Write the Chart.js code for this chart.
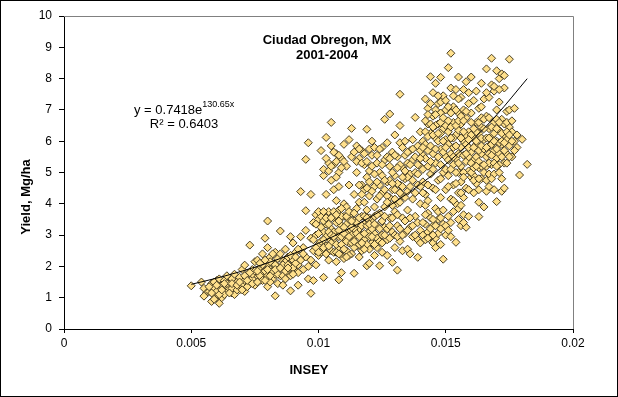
<!DOCTYPE html>
<html>
<head>
<meta charset="utf-8">
<title>Ciudad Obregon, MX 2001-2004</title>
<script src="https://cdn.jsdelivr.net/npm/chart.js@4.4.1/dist/chart.umd.min.js"></script>
<style>
    body { margin: 0; background: #fff; }
    canvas { display: block; }
</style>
</head>
<body>
<canvas id="yieldChart" width="618" height="397"></canvas>
<script>
// INSEY vs grain yield (Mg/ha)
const observations = [
    [0.0050,1.38],[0.0054,1.50],[0.0055,1.30],[0.0056,1.15],[0.0055,1.05],
    [0.0057,1.20],[0.0058,0.88],[0.0058,1.45],[0.0059,1.10],[0.0059,1.30],[0.0060,1.55],[0.0060,1.00],[0.0061,0.82],[0.0061,1.25],[0.0061,1.60],
    [0.0062,1.40],[0.0062,1.15],[0.0063,1.30],[0.0063,1.55],[0.0064,1.20],[0.0064,1.70],[0.0065,1.45],[0.0065,1.30],
    [0.0066,1.15],[0.0066,1.60],[0.0067,1.35],[0.0067,1.75],[0.0068,1.50],[0.0069,1.25],[0.0069,1.65],[0.0070,1.40],[0.0070,1.90],[0.0071,2.04],
    [0.0071,1.20],[0.0071,1.55],[0.0072,1.75],[0.0073,1.45],[0.0073,2.68],[0.0074,1.60],[0.0074,1.90],[0.0075,1.40],[0.0075,2.15],
    [0.0076,1.70],[0.0076,2.20],[0.0077,1.55],[0.0077,1.95],[0.0078,2.40],[0.0078,1.80],[0.0079,2.90],[0.0079,1.65],[0.0080,2.05],[0.0080,3.45],[0.0080,1.35],[0.0080,2.60],
    [0.0081,1.90],[0.0081,2.30],[0.0082,1.60],[0.0082,2.10],[0.0083,1.06],[0.0083,1.75],[0.0083,2.45],[0.0084,2.00],[0.0084,1.45],[0.0085,3.13],[0.0085,2.25],[0.0085,1.70],
    [0.0086,1.40],[0.0086,1.95],[0.0087,2.15],[0.0087,2.55],[0.0088,1.80],[0.0088,2.30],[0.0089,2.00],[0.0089,2.95],[0.0089,1.22],[0.0090,2.20],[0.0090,2.75],
    [0.0091,1.85],[0.0091,2.45],[0.0092,1.40],[0.0092,2.05],[0.0093,2.95],[0.0093,4.39],[0.0094,2.60],[0.0094,1.90],[0.0095,3.15],[0.0095,2.30],[0.0095,5.42],
    [0.0096,5.95],[0.0095,3.78],[0.0096,2.00],[0.0096,1.60],[0.0097,1.14],[0.0097,4.30],[0.0097,2.90],[0.0097,2.20],[0.0098,3.40],[0.0098,1.55],[0.0098,2.50],
    [0.0099,3.65],[0.0099,2.05],[0.0099,3.00],[0.0100,3.50],[0.0100,2.70],[0.0100,2.35],
    [0.0101,3.60],[0.0101,2.45],[0.0101,5.70],[0.0102,4.90],[0.0102,3.10],[0.0102,1.65],[0.0102,5.10],[0.0103,6.12],[0.0103,4.30],[0.0103,3.35],[0.0103,2.65],
    [0.0104,5.30],[0.0104,2.90],[0.0104,3.75],[0.0104,2.20],[0.0105,4.75],[0.0105,5.85],[0.0105,6.60],[0.0105,3.20],[0.0105,2.50],
    [0.0106,5.25],[0.0106,4.45],[0.0106,2.80],[0.0106,3.55],[0.0107,5.60],[0.0107,4.10],[0.0107,2.15],[0.0107,3.00],[0.0108,5.00],[0.0108,3.80],[0.0108,2.60],[0.0108,4.55],
    [0.0109,5.45],[0.0108,1.57],[0.0109,3.30],[0.0109,2.35],[0.0110,5.90],[0.0110,4.00],[0.0110,2.90],[0.0110,3.60],[0.0109,1.80],
    [0.0111,5.20],[0.0111,3.90],[0.0111,2.50],[0.0111,3.35],[0.0112,6.05],[0.0112,4.60],[0.0112,2.75],[0.0112,3.10],[0.0113,6.41],[0.0113,5.50],[0.0113,3.70],[0.0113,2.40],
    [0.0114,1.78],[0.0114,4.30],[0.0114,2.95],[0.0114,3.45],[0.0115,5.85],[0.0115,5.00],[0.0115,3.85],[0.0115,2.65],
    [0.0116,5.45],[0.0116,4.05],[0.0116,3.20],[0.0116,2.30],[0.0117,5.70],[0.0117,4.60],[0.0117,3.00],[0.0117,3.60],[0.0118,4.45],[0.0118,2.85],[0.0118,5.25],[0.0118,3.35],
    [0.0119,2.02],[0.0119,4.85],[0.0119,3.80],[0.0119,6.38],[0.0120,3.10],[0.0120,2.55],[0.0120,4.25],[0.0120,5.05],[0.0120,2.10],
    [0.0121,6.00],[0.0121,5.55],[0.0121,3.50],[0.0121,2.75],[0.0122,4.55],[0.0122,3.90],[0.0122,3.05],[0.0122,2.35],[0.0123,5.30],[0.0123,4.15],[0.0123,3.30],[0.0123,2.60],
    [0.0124,5.00],[0.0124,2.02],[0.0124,3.70],[0.0124,4.60],[0.0125,5.80],[0.0125,4.35],[0.0125,3.00],[0.0125,2.45],
    [0.0126,6.70],[0.0126,5.40],[0.0126,3.90],[0.0126,3.25],[0.0127,4.70],[0.0127,2.85],[0.0127,5.95],[0.0127,2.35],[0.0128,4.20],[0.0128,3.55],[0.0128,6.87],[0.0128,5.20],
    [0.0129,2.13],[0.0129,4.45],[0.0129,3.10],[0.0129,5.65],[0.0130,3.75],[0.0130,2.60],[0.0130,6.20],[0.0130,4.90],
    [0.0131,1.88],[0.0132,7.50],[0.0131,5.50],[0.0131,4.00],[0.0131,3.30],[0.0132,6.50],[0.0132,4.60],[0.0132,2.80],[0.0132,5.95],[0.0133,3.55],[0.0133,5.15],[0.0133,2.50],[0.0133,4.25],
    [0.0134,6.00],[0.0134,3.05],[0.0134,4.80],[0.0134,5.55],[0.0135,3.80],[0.0135,2.55],[0.0135,5.30],[0.0135,4.40],
    [0.0136,5.70],[0.0136,3.25],[0.0136,2.40],[0.0136,4.95],[0.0137,6.05],[0.0137,4.15],[0.0137,2.95],[0.0137,5.40],[0.0138,6.76],[0.0138,3.60],[0.0138,5.00],[0.0139,2.29],
    [0.0139,4.60],[0.0139,5.85],[0.0139,3.40],[0.0139,2.85],[0.0140,5.20],[0.0140,6.30],[0.0140,4.00],[0.0140,3.15],
    [0.0141,5.55],[0.0141,3.00],[0.0141,4.70],[0.0141,6.00],[0.0142,7.35],[0.0142,3.35],[0.0142,5.90],[0.0142,4.30],[0.0142,2.85],[0.0143,6.55],[0.0143,3.70],[0.0143,5.20],[0.0143,7.05],[0.0143,3.10],
    [0.0144,8.06],[0.0144,6.25],[0.0144,4.95],[0.0144,2.95],[0.0144,3.55],[0.0145,7.55],[0.0145,6.80],[0.0145,5.60],[0.0145,4.50],[0.0145,3.30],[0.0145,2.75],
    [0.0146,7.85],[0.0146,6.10],[0.0146,5.30],[0.0146,3.85],[0.0146,2.90],[0.0147,7.20],[0.0147,6.55],[0.0147,4.75],[0.0147,3.50],[0.0147,3.05],
    [0.0148,8.04],[0.0148,6.90],[0.0148,5.75],[0.0148,4.20],[0.0148,2.70],[0.0149,2.23],[0.0149,7.45],[0.0149,5.00],[0.0149,3.35],[0.0149,6.40],[0.0150,4.45],[0.0150,5.50],[0.0150,3.00],[0.0150,7.00],[0.0150,6.05],
    [0.0151,8.35],[0.0151,6.30],[0.0151,4.90],[0.0151,3.60],[0.0152,8.81],[0.0152,7.70],[0.0152,5.60],[0.0152,4.15],[0.0152,2.95],[0.0153,7.10],[0.0153,6.60],[0.0153,5.25],[0.0153,4.60],[0.0153,3.75],
    [0.0154,7.65],[0.0154,6.20],[0.0154,4.00],[0.0154,2.77],[0.0154,5.45],[0.0155,8.05],[0.0155,6.90],[0.0155,5.00],[0.0155,4.35],[0.0155,3.50],
    [0.0156,7.40],[0.0156,6.55],[0.0156,5.80],[0.0156,3.30],[0.0156,4.70],[0.0157,7.00],[0.0157,6.00],[0.0157,4.20],[0.0157,3.65],[0.0158,7.90],[0.0158,6.75],[0.0158,5.35],[0.0158,4.50],[0.0158,3.25],
    [0.0159,7.55],[0.0159,6.30],[0.0159,5.05],[0.0159,3.60],[0.0160,8.05],[0.0160,6.90],[0.0160,4.85],[0.0160,5.65],
    [0.0161,7.30],[0.0161,6.10],[0.0161,4.35],[0.0161,5.40],[0.0162,6.60],[0.0162,5.90],[0.0162,4.65],[0.0163,3.59],[0.0163,7.05],[0.0163,6.25],[0.0163,5.15],[0.0163,4.05],
    [0.0164,7.85],[0.0164,6.45],[0.0164,5.60],[0.0164,4.80],[0.0165,7.35],[0.0165,6.05],[0.0165,5.00],[0.0165,3.90],
    [0.0166,8.31],[0.0166,6.80],[0.0166,5.50],[0.0166,4.40],[0.0167,7.40],[0.0167,6.40],[0.0167,5.85],[0.0167,4.55],[0.0168,8.65],[0.0168,7.80],[0.0168,6.15],[0.0168,5.25],
    [0.0169,7.60],[0.0169,6.60],[0.0169,5.70],[0.0169,4.45],[0.0170,8.25],[0.0170,7.00],[0.0170,6.00],[0.0170,4.07],[0.0170,5.45],
    [0.0171,8.00],[0.0171,7.25],[0.0171,6.35],[0.0171,5.60],[0.0172,8.15],[0.0172,6.70],[0.0172,5.90],[0.0172,4.80],[0.0172,4.40],[0.0173,7.70],[0.0173,6.20],[0.0173,5.30],[0.0173,4.50],
    [0.0174,6.95],[0.0174,6.05],[0.0174,5.60],[0.0175,8.62],[0.0175,6.45],[0.0175,5.85],[0.0175,7.00],
    [0.0176,6.30],[0.0176,5.50],[0.0177,6.00],[0.0177,7.05],[0.0178,5.80],[0.0179,4.92],[0.0180,6.06],[0.0182,5.26],
    // denser parts of the cloud
    [0.0057,1.35],[0.0059,1.50],[0.0060,1.20],[0.0062,1.00],[0.0063,1.10],[0.0064,1.45],[0.0066,1.30],[0.0067,1.10],[0.0068,1.25],
    [0.0072,1.35],[0.0074,1.75],[0.0075,1.85],[0.0077,1.70],[0.0078,1.55],[0.0078,2.05],[0.0079,1.85],[0.0080,1.70],[0.0081,2.15],[0.0081,1.50],[0.0082,1.85],[0.0082,2.40],
    [0.0083,2.05],[0.0084,1.75],[0.0084,2.25],[0.0086,1.70],[0.0086,2.05],[0.0087,1.85],[0.0088,2.05],[0.0089,1.70],[0.0089,2.35],[0.0090,1.95],[0.0091,2.10],[0.0092,1.80],[0.0092,2.55],
    [0.0099,2.60],[0.0100,3.05],[0.0101,2.80],[0.0102,2.60],[0.0102,3.45],[0.0103,2.95],[0.0104,3.35],[0.0105,2.75],[0.0106,3.10],[0.0106,2.45],[0.0107,3.40],[0.0107,2.70],
    [0.0108,3.15],[0.0108,2.95],[0.0109,2.70],[0.0109,3.60],[0.0110,3.25],[0.0110,2.55],[0.0111,3.05],[0.0111,2.80],[0.0112,3.50],[0.0112,2.35],[0.0113,3.00],[0.0113,2.75],
    [0.0114,3.20],[0.0114,2.60],[0.0115,3.05],[0.0115,3.40],[0.0116,2.70],[0.0116,3.55],[0.0117,2.50],[0.0117,3.30],[0.0118,3.05],[0.0119,2.70],[0.0119,3.30],[0.0120,2.95],
    [0.0120,3.55],[0.0121,3.20],[0.0122,2.70],[0.0123,2.90],[0.0124,3.20],[0.0125,3.45],
    [0.0103,5.45],[0.0104,5.05],[0.0105,5.20],[0.0106,5.65],[0.0107,5.35],[0.0107,4.85],[0.0108,5.55],[0.0109,5.15],[0.0110,5.35],
    [0.0116,4.60],[0.0117,4.30],[0.0118,4.05],[0.0119,4.50],[0.0120,4.70],[0.0121,4.40],[0.0122,4.95],[0.0123,4.70],[0.0124,4.25],[0.0125,4.90],[0.0126,4.45],[0.0127,4.25],
    [0.0128,4.75],[0.0129,3.95],[0.0130,4.45],[0.0131,4.65],[0.0132,4.05],[0.0133,4.55],[0.0134,4.20],[0.0135,4.85],[0.0125,5.25],[0.0127,5.50],[0.0129,5.00],[0.0130,5.55],[0.0132,5.25],[0.0133,5.80],
    [0.0140,2.75],[0.0141,3.40],[0.0142,3.65],[0.0143,2.90],[0.0144,3.20],[0.0145,3.50],[0.0145,3.00],[0.0146,3.30],[0.0146,2.60],[0.0147,3.75],[0.0148,3.20],[0.0148,3.55],
    [0.0149,3.80],[0.0150,3.30],[0.0151,3.15],[0.0152,3.40],[0.0142,3.95],[0.0143,4.10],
    [0.0138,5.50],[0.0139,5.25],[0.0140,5.70],[0.0141,5.10],[0.0142,5.45],[0.0142,6.30],[0.0143,5.70],[0.0143,6.15],[0.0144,5.35],[0.0144,5.85],[0.0145,6.20],[0.0145,5.10],
    [0.0146,5.75],[0.0146,6.50],[0.0147,5.50],[0.0147,6.00],[0.0148,5.25],[0.0148,6.25],[0.0149,5.65],[0.0149,6.00],[0.0150,5.10],[0.0150,6.50],[0.0151,5.40],[0.0151,5.90],
    [0.0152,5.10],[0.0152,6.45],[0.0153,5.80],[0.0153,6.10],[0.0154,5.00],[0.0154,5.85],[0.0155,5.60],[0.0155,6.35],[0.0156,5.20],[0.0156,6.10],[0.0157,5.55],[0.0157,5.00],
    [0.0158,5.90],[0.0158,6.20],[0.0159,5.50],[0.0159,5.80],[0.0160,6.20],[0.0160,5.30],[0.0161,5.80],[0.0161,4.90],[0.0162,5.50],[0.0162,6.30],[0.0163,5.70],[0.0163,5.35],
    [0.0164,6.10],[0.0164,5.20],[0.0165,5.75],[0.0165,6.40],[0.0166,6.10],[0.0166,5.20],[0.0167,6.10],[0.0167,5.30],[0.0168,5.90],[0.0168,6.45],[0.0169,5.30],[0.0169,6.25],
    [0.0170,5.75],[0.0170,6.40],[0.0171,5.95],[0.0171,5.25],[0.0172,6.25],[0.0173,5.70],[0.0173,6.55],[0.0174,6.30],[0.0175,6.20],[0.0176,6.00],
    [0.0144,7.20],[0.0146,7.00],[0.0148,7.25],[0.0150,7.30],[0.0153,7.45],[0.0155,7.35],[0.0157,7.65],[0.0159,7.20],[0.0162,7.60],[0.0164,7.10],[0.0166,7.55],[0.0169,7.75],
    [0.0171,7.65],[0.0173,8.10],[0.0143,4.60],[0.0146,4.45],[0.0148,4.80],[0.0151,4.55],[0.0154,4.65],[0.0156,4.35],[0.0157,4.85],[0.0159,4.45],[0.0161,4.75],[0.0163,4.45],
    [0.0167,4.95],[0.0169,4.95],[0.0153,4.10],[0.0155,3.85],[0.0157,3.40],[0.0156,3.95],
    [0.0098,2.85],[0.0099,3.35],[0.0100,2.45],[0.0100,3.75],[0.0101,3.25],[0.0102,2.85],[0.0102,3.75],[0.0103,3.55],[0.0103,2.40],[0.0104,2.65],[0.0104,3.10],[0.0105,3.55],
    [0.0105,3.00],[0.0106,3.75],[0.0106,2.95],[0.0107,2.45],[0.0107,3.65],[0.0108,3.45],[0.0108,2.40],[0.0109,2.95],[0.0109,3.85],[0.0110,3.05],[0.0110,2.25],[0.0111,3.60],
    [0.0111,2.30],[0.0112,2.95],[0.0112,3.75],[0.0113,3.25],[0.0113,3.45],[0.0114,2.80],[0.0114,3.70],
    [0.0116,2.95],[0.0117,2.75],[0.0118,3.60],[0.0118,2.55],[0.0119,3.55],[0.0120,3.35],[0.0121,2.95],[0.0122,3.35],[0.0122,3.60],[0.0123,3.65],[0.0124,2.80],[0.0125,2.75],
    [0.0126,3.00],[0.0126,3.60],[0.0127,3.20],[0.0128,2.90],[0.0128,3.30],[0.0129,3.55],[0.0130,3.00],[0.0131,3.65],[0.0131,2.95],[0.0132,3.20],[0.0133,3.00],[0.0134,3.45],
    [0.0135,3.15],[0.0136,3.55],[0.0137,3.30],[0.0138,3.00],
    [0.0114,5.65],[0.0115,5.35],[0.0116,5.75],[0.0117,5.30],[0.0118,5.60],[0.0119,5.35],[0.0120,5.75],[0.0121,5.20],[0.0122,5.80],[0.0123,5.55],[0.0124,5.75],
    [0.0126,4.75],[0.0127,4.05],[0.0128,5.45],[0.0129,4.65],[0.0130,4.15],[0.0131,5.15],[0.0132,4.35],[0.0133,4.85],[0.0134,5.05],[0.0135,5.65],[0.0136,4.55],[0.0136,5.25],
    [0.0137,4.75],[0.0137,5.75],[0.0138,4.35],[0.0139,4.95],[0.0140,4.55],[0.0140,5.45],[0.0141,4.35],[0.0141,5.80],
    [0.0142,6.65],[0.0143,6.85],[0.0144,6.55],[0.0145,6.45],[0.0146,6.85],[0.0147,6.25],[0.0147,7.45],[0.0148,6.60],[0.0149,6.75],[0.0150,5.80],[0.0151,6.65],[0.0151,7.10],
    [0.0152,6.10],[0.0152,6.90],[0.0153,5.50],[0.0154,6.50],[0.0154,7.00],[0.0155,5.30],[0.0155,6.65],[0.0156,6.80],[0.0157,6.30],[0.0157,6.65],[0.0158,5.60],[0.0158,6.95],
    [0.0159,6.05],[0.0160,5.00],[0.0160,6.60],[0.0161,6.40],[0.0161,5.15],[0.0162,6.00],[0.0162,5.20],[0.0163,6.60],[0.0163,4.80],[0.0164,5.85],[0.0164,6.75],[0.0165,5.25],
    [0.0165,6.70],[0.0166,5.80],[0.0166,4.75],[0.0167,5.60],[0.0167,6.75],[0.0168,5.55],[0.0168,4.80],[0.0169,6.00],[0.0170,5.20],[0.0170,6.70],[0.0171,6.60],[0.0171,5.00],
    [0.0172,5.50],[0.0172,6.00],[0.0173,5.95],[0.0174,5.30],[0.0174,6.60],[0.0175,5.50],[0.0176,6.65],[0.0177,5.70],[0.0178,6.20],
    [0.0058,1.15],[0.0059,0.95],[0.0060,1.40],[0.0061,1.10],[0.0062,1.25],[0.0063,1.45],[0.0065,1.15],[0.0066,1.45],[0.0068,1.40],[0.0069,1.50],[0.0070,1.25],[0.0071,1.70],
    [0.0072,1.55],[0.0073,1.80],[0.0074,1.45],[0.0076,1.85],[0.0076,1.50],[0.0077,2.10],[0.0079,1.55],[0.0079,2.20],[0.0080,1.90],[0.0081,1.70],[0.0083,1.90],[0.0085,1.95],
    [0.0085,2.40],[0.0087,1.60],[0.0088,1.95],[0.0090,1.75],[0.0091,2.30],[0.0093,2.20],[0.0094,2.40]
];

// exponential trendline, y = 0.7418e^(130.65x), as drawn on the chart
const trendX = [0.005, 0.006, 0.007, 0.008, 0.009, 0.010, 0.011, 0.012, 0.013, 0.014, 0.015, 0.016, 0.017, 0.0182];
const trendY = [1.427, 1.625, 1.851, 2.110, 2.404, 2.740, 3.122, 3.558, 4.055, 4.621, 5.265, 6.000, 6.838, 7.998];

const xTickLabels = ['0', '0.005', '0.01', '0.015', '0.02'];
const yTickLabels = ['0', '1', '2', '3', '4', '5', '6', '7', '8', '9', '10'];

const chartTitle = ['Ciudad Obregon, MX', '2001-2004'];
const equationMain = 'y = 0.7418e';
const equationExp = '130.65x';
const rSquared = 'R\u00B2 = 0.6403';
const xTitle = 'INSEY';
const yTitle = 'Yield, Mg/ha';

const FONT = '"Liberation Sans", Arial, sans-serif';

// plot frame and free-standing text
const textAndFrame = {
    id: 'textAndFrame',
    beforeDraw(chart) {
        const ctx = chart.ctx;
        ctx.save();
        ctx.fillStyle = '#fff';
        ctx.fillRect(0, 0, chart.width, chart.height);
        ctx.restore();
    },
    afterDraw(chart) {
        const ctx = chart.ctx;
        const a = chart.chartArea;
        ctx.save();
        // grey frame on top and right of the plot area
        ctx.strokeStyle = '#808080';
        ctx.lineWidth = 1;
        ctx.beginPath();
        ctx.moveTo(a.left, a.top + 0.5);
        ctx.lineTo(a.right + 0.5, a.top + 0.5);
        ctx.lineTo(a.right + 0.5, a.bottom);
        ctx.stroke();
        // outer black border
        ctx.strokeStyle = '#000';
        ctx.strokeRect(0.5, 0.5, chart.width - 1, chart.height - 1);

        ctx.fillStyle = '#000';
        ctx.textBaseline = 'middle';
        ctx.textAlign = 'center';
        ctx.font = 'bold 13px ' + FONT;
        ctx.fillText(chartTitle[0], 327, 40);
        ctx.fillText(chartTitle[1], 327, 55);

        ctx.fillText(xTitle, 309, 370);
        ctx.save();
        ctx.translate(26, 197);
        ctx.rotate(-Math.PI / 2);
        ctx.fillText(yTitle, 0, 0);
        ctx.restore();

        ctx.textAlign = 'left';
        ctx.font = '13px ' + FONT;
        ctx.fillText(equationMain, 134, 110);
        const w = ctx.measureText(equationMain).width;
        ctx.font = '9px ' + FONT;
        ctx.fillText(equationExp, 134 + w, 105);
        ctx.font = '13px ' + FONT;
        ctx.textAlign = 'center';
        ctx.fillText(rSquared, 184, 124);
        ctx.restore();
    }
};

new Chart(document.getElementById('yieldChart'), {
    type: 'scatter',
    data: {
        datasets: [{
            type: 'line',
            label: 'trend',
            data: trendX.map((x, i) => ({ x: x, y: trendY[i] })),
            borderColor: '#000',
            borderWidth: 1,
            pointRadius: 0,
            cubicInterpolationMode: 'monotone',
            fill: false,
            order: 0
        }, {
            label: 'Yield',
            data: observations.map(p => ({ x: p[0], y: p[1] })),
            pointStyle: 'rectRot',
            pointRadius: 4,
            backgroundColor: '#FFE08C',
            borderColor: '#4a3f22',
            borderWidth: 1,
            order: 1
        }]
    },
    options: {
        responsive: false,
        animation: false,
        devicePixelRatio: 1,
        layout: { padding: { left: 0, top: 16, right: 45, bottom: 0 } },
        plugins: {
            legend: { display: false },
            tooltip: { enabled: false },
            title: { display: false }
        },
        scales: {
            x: {
                type: 'linear',
                min: 0,
                max: 0.02,
                afterFit(scale) { scale.height = 68; },
                afterBuildTicks(scale) {
                    scale.ticks = xTickLabels.map(t => ({ value: parseFloat(t) }));
                },
                ticks: {
                    color: '#000',
                    font: { family: FONT, size: 12 },
                    padding: 3,
                    maxRotation: 0,
                    callback: (v, i) => xTickLabels[i]
                },
                grid: { drawOnChartArea: false, drawTicks: true, tickLength: 4, color: '#000' },
                border: { color: '#000', width: 1 }
            },
            y: {
                min: 0,
                max: 10,
                afterFit(scale) { scale.width = 64; },
                afterBuildTicks(scale) {
                    scale.ticks = yTickLabels.map(t => ({ value: parseFloat(t) }));
                },
                ticks: {
                    color: '#000',
                    font: { family: FONT, size: 12 },
                    padding: 7,
                    callback: (v, i) => yTickLabels[i]
                },
                grid: { drawOnChartArea: false, drawTicks: true, tickLength: 5, color: '#000' },
                border: { color: '#000', width: 1 }
            }
        }
    },
    plugins: [textAndFrame]
});
</script>
</body>
</html>
